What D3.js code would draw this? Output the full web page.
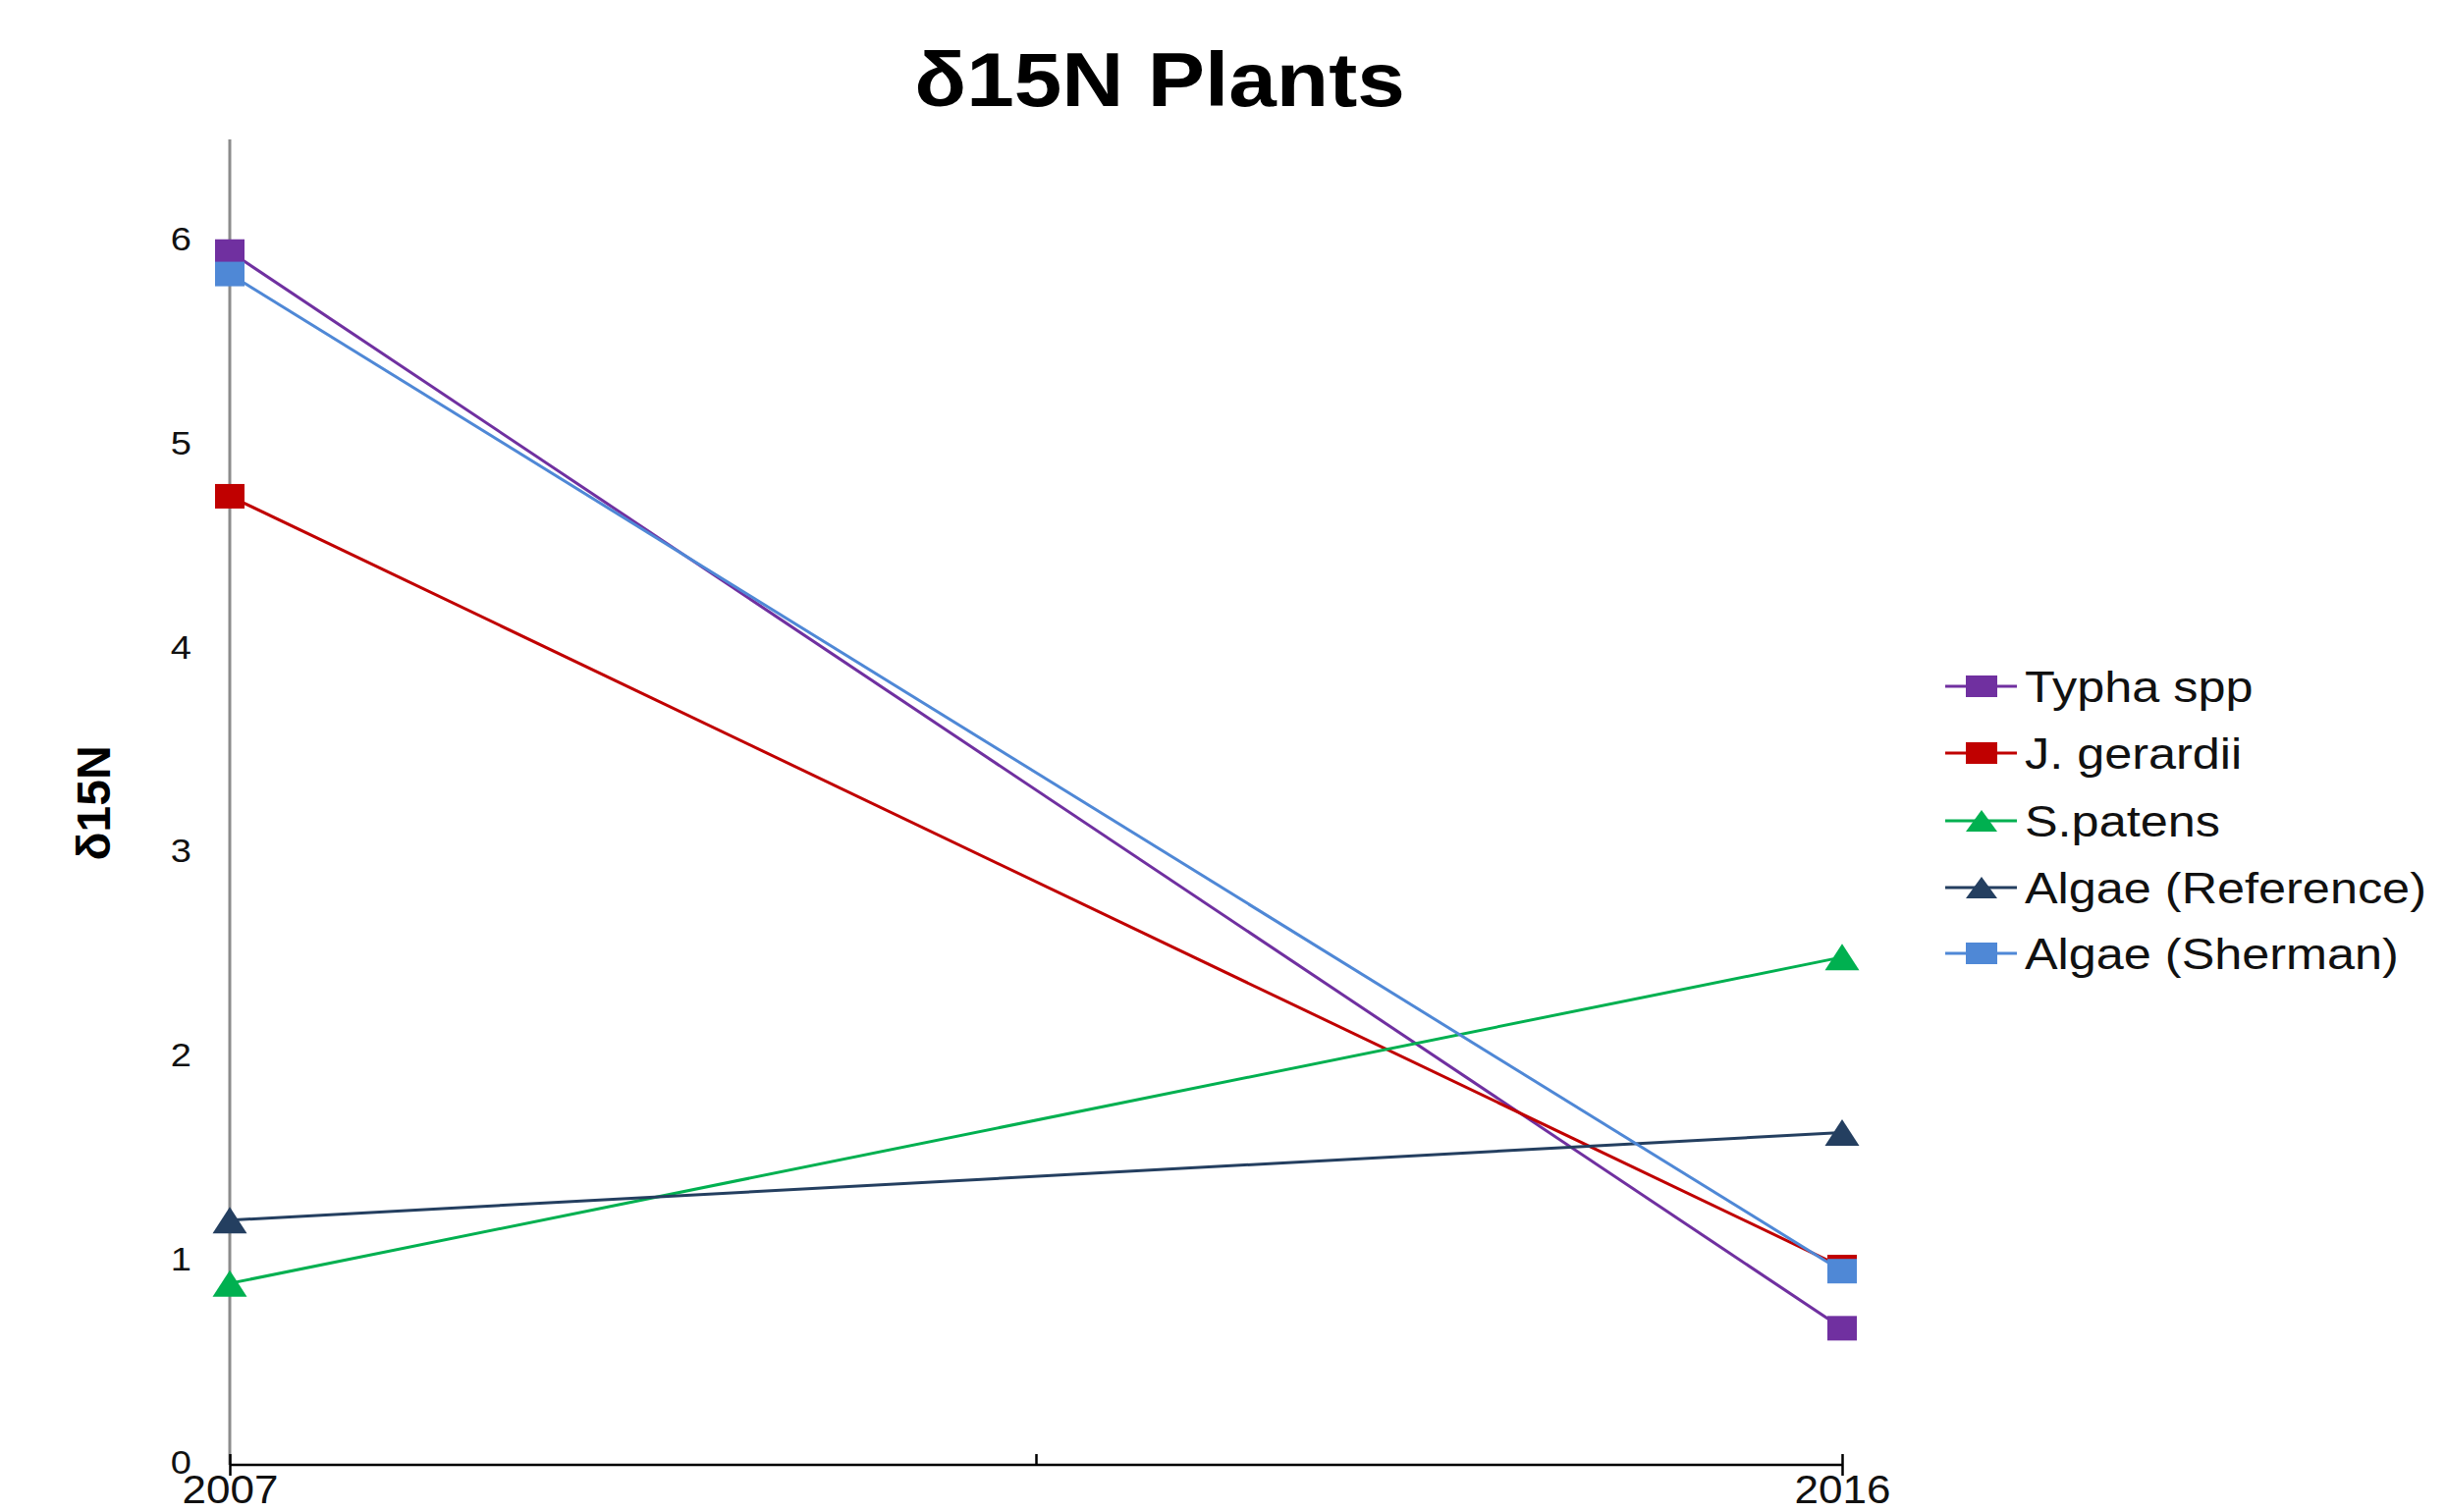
<!DOCTYPE html>
<html>
<head>
<meta charset="utf-8">
<script src="https://cdn.jsdelivr.net/npm/d3@7"></script>
<style>
html,body{margin:0;padding:0;background:#fff;}
svg{display:block;font-family:"Liberation Sans",Arial,sans-serif;}
</style>
</head>
<body>
<svg id="chart" width="2491" height="1540"></svg>
<script>
const years = ["2007", "2016"];
const seriesNames = ["Typha spp", "J. gerardii", "S.patens", "Algae (Reference)", "Algae (Sherman)"];
const typha = [5.95, 0.67];
const gerardii = [4.75, 0.97];
const patens = [0.89, 2.49];
const algaeRef = [1.20, 1.63];
const algaeSherman = [5.84, 0.95];
const yTicks = [0, 1, 2, 3, 4, 5, 6];
const colors = ["#7030A0", "#C00000", "#00B050", "#243F60", "#4F88D6"];
const shapes = ["square", "square", "triangle", "triangle", "square"];
const allValues = [typha, gerardii, patens, algaeRef, algaeSherman];

const svg = d3.select("#chart");
const x0 = 234, x1 = 1876, yBottom = 1492, yTop = 142;

const x = d3.scaleLinear().domain([0, 1]).range([x0, x1]);
const y = d3.scaleLinear().domain([0, 6.5]).range([yBottom, yTop]);

// Title
svg.append("text")
  .attr("transform", "translate(1181,108) scale(1.12,1)")
  .attr("text-anchor", "middle")
  .attr("font-weight", "bold")
  .attr("font-size", 78)
  .attr("fill", "#000")
  .text("δ15N Plants");

// Y axis title
svg.append("text")
  .attr("transform", "translate(112,818) rotate(-90)")
  .attr("text-anchor", "middle")
  .attr("font-weight", "bold")
  .attr("font-size", 48)
  .attr("fill", "#000")
  .text("δ15N");

// Y axis
const yAxis = svg.append("g")
  .attr("transform", `translate(${x0},0)`)
  .call(d3.axisLeft(y).tickValues(yTicks).tickSize(0).tickPadding(0).tickFormat(d3.format("d")));
yAxis.attr("font-size", 34).attr("font-family", "Liberation Sans, Arial, sans-serif");
yAxis.select(".domain").attr("stroke", "#8c8c8c").attr("stroke-width", 3).attr("d", `M0,${yTop}V${yBottom}`);
yAxis.selectAll(".tick text")
  .attr("font-size", 34)
  .attr("fill", "#111")
  .attr("x", null)
  .attr("transform", "translate(-39,-2) scale(1.12,1)");

// X axis
const xAxis = svg.append("g")
  .attr("transform", `translate(0,${yBottom})`)
  .call(d3.axisBottom(x).tickValues([0, 0.5, 1]).tickSize(11).tickPadding(12)
    .tickFormat(d => d === 0 ? years[0] : (d === 1 ? years[1] : "")));
xAxis.attr("font-size", 40).attr("font-family", "Liberation Sans, Arial, sans-serif");
xAxis.select(".domain").attr("stroke", "#000").attr("stroke-width", 2.5).attr("d", `M${x0},0H${x1}`);
xAxis.selectAll(".tick line")
  .attr("stroke", "#000").attr("stroke-width", 2.5)
  .attr("y1", -11).attr("y2", d => d === 0.5 ? 0 : 11);
xAxis.selectAll(".tick text")
  .attr("font-size", 40)
  .attr("fill", "#111")
  .attr("dy", null)
  .attr("y", null)
  .attr("transform", "translate(0,39) scale(1.1,1)");

// Lines
const line = d3.line().x((d, i) => x(i)).y(d => y(d));
const drawOrder = [0, 1, 2, 3, 4];
drawOrder.forEach(s => {
  svg.append("path")
    .datum(allValues[s])
    .attr("d", line)
    .attr("fill", "none")
    .attr("stroke", colors[s])
    .attr("stroke-width", 3);
});

function marker(g, shape, cx, cy, color, w, h) {
  if (shape === "square") {
    g.append("rect").attr("x", cx - w / 2).attr("y", cy - h / 2)
      .attr("width", w).attr("height", h).attr("fill", color);
  } else {
    g.append("path")
      .attr("d", `M${cx},${cy - h / 2}L${cx + w / 2},${cy + h / 2}L${cx - w / 2},${cy + h / 2}Z`)
      .attr("fill", color);
  }
}

const markers = svg.append("g");
drawOrder.forEach(s => {
  allValues[s].forEach((v, i) => {
    if (shapes[s] === "square") marker(markers, "square", x(i), y(v), colors[s], 30, 25);
    else marker(markers, "triangle", x(i), y(v), colors[s], 35, 27);
  });
});

// Legend
const legendY = [699, 767, 836, 904, 971];
const legend = svg.append("g");
seriesNames.forEach((name, s) => {
  const ly = legendY[s];
  legend.append("line").attr("x1", 1981).attr("x2", 2054).attr("y1", ly).attr("y2", ly)
    .attr("stroke", colors[s]).attr("stroke-width", 3);
  if (shapes[s] === "square") marker(legend, "square", 2018, ly, colors[s], 32, 22);
  else marker(legend, "triangle", 2018, ly, colors[s], 32, 22);
  legend.append("text")
    .attr("transform", `translate(2062,${ly + 16}) scale(1.12,1)`)
    .attr("font-size", 45)
    .attr("fill", "#111")
    .text(name);
});
</script>
</body>
</html>
